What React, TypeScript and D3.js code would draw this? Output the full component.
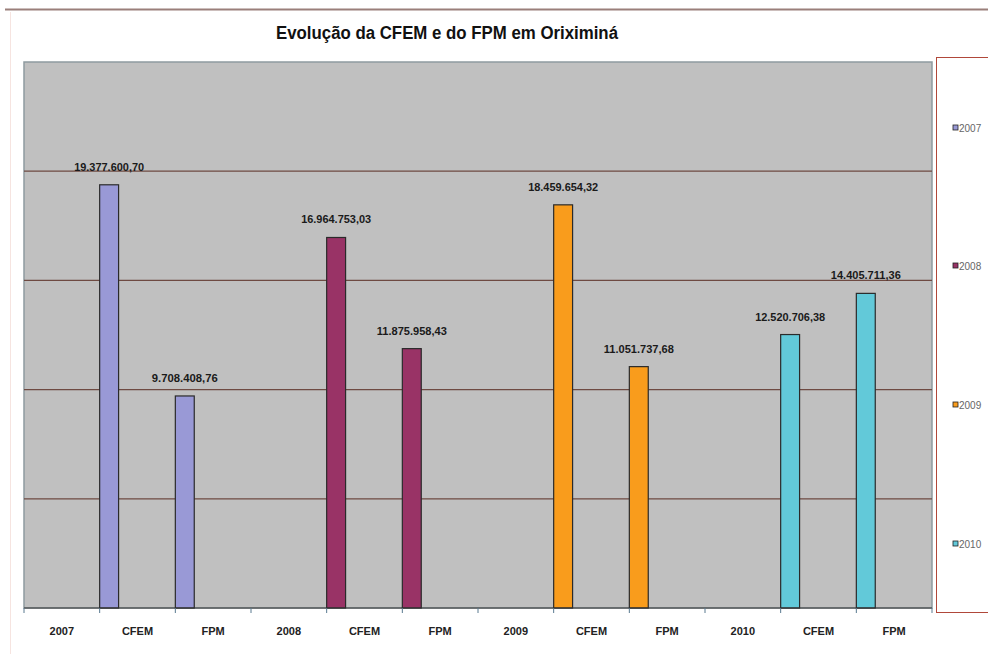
import React from "react";
import * as d3 from "d3";

const categories = ["2007", "CFEM", "FPM", "2008", "CFEM", "FPM", "2009", "CFEM", "FPM", "2010", "CFEM", "FPM"];
const seriesNames = ["2007", "2008", "2009", "2010"];
const seriesColors = ["#9999d6", "#993366", "#f99c1c", "#62c9d9"];
const cfemValues = [19377600.70, 16964753.03, 18459654.32, 12520706.38];
const fpmValues = [9708408.76, 11875958.43, 11051737.68, 14405711.36];
const yTicks = [5e6, 10e6, 15e6, 20e6];
const title = "Evolução da CFEM e do FPM em Oriximiná";

const W = 988, H = 654;
const plot = { x0: 24, x1: 932, y0: 62, y1: 608 };

const locale = d3.formatLocale({ decimal: ",", thousands: ".", grouping: [3], currency: ["R$", ""] });
const fmt = locale.format(",.2f");

export default function App() {
  const x = d3.scaleBand<number>().domain(d3.range(categories.length)).range([plot.x0, plot.x1]).paddingInner(0).paddingOuter(0);
  const y = d3.scaleLinear().domain([0, 25e6]).range([plot.y1, plot.y0]);
  const bw = x.bandwidth() / 4;

  const bars: { idx: number; value: number; color: string }[] = [];
  seriesNames.forEach((_, i) => {
    bars.push({ idx: i * 3 + 1, value: cfemValues[i], color: seriesColors[i] });
    bars.push({ idx: i * 3 + 2, value: fpmValues[i], color: seriesColors[i] });
  });

  const font = "'Liberation Sans', Arial, sans-serif";

  return (
    <svg width={W} height={H} style={{ position: "absolute", left: 0, top: 0, background: "#fff" }} fontFamily={font}>
      <rect x={0} y={0} width={W} height={H} fill="#ffffff" />
      <line x1={5} x2={W} y1={9.5} y2={9.5} stroke="#9a7f7a" strokeWidth={2} />
      <line x1={10.5} x2={10.5} y1={12} y2={H} stroke="#f6e4e0" strokeWidth={1} />
      <text x={447} y={39} textAnchor="middle" fontSize={18} fontWeight="bold" fill="#111" textLength={342} lengthAdjust="spacingAndGlyphs">{title}</text>

      <rect x={plot.x0} y={plot.y0} width={plot.x1 - plot.x0} height={plot.y1 - plot.y0} fill="#c0c0c0" stroke="#8e9ba0" strokeWidth={1.5} />
      {yTicks.map((t) => (
        <line key={t} x1={plot.x0} x2={plot.x1} y1={y(t)} y2={y(t)} stroke="#6e4a42" strokeWidth={1.3} />
      ))}

      {bars.map((b, i) => (
        <g key={i}>
          <rect x={x(b.idx)!} y={y(b.value)} width={bw} height={plot.y1 - y(b.value)} fill={b.color} stroke="#2a2a2a" strokeWidth={1.2} />
          <text x={x(b.idx)! + bw / 2} y={y(b.value) - 14} textAnchor="middle" fontSize={11} fontWeight="bold" fill="#1a1a1a" textLength={fmt(b.value).length > 12 ? 70 : 66} lengthAdjust="spacingAndGlyphs">{fmt(b.value)}</text>
        </g>
      ))}

      <line x1={plot.x0} x2={plot.x1} y1={plot.y1} y2={plot.y1} stroke="#333" strokeWidth={1.2} />
      {d3.range(categories.length + 1).map((i) => {
        const xx = plot.x0 + i * x.step();
        return <line key={i} x1={xx} x2={xx} y1={plot.y1} y2={plot.y1 + 5} stroke="#5a7a90" strokeWidth={1} />;
      })}
      {categories.map((c, i) => (
        <text key={i} x={x(i)! + x.bandwidth() / 2} y={635} textAnchor="middle" fontSize={11} fontWeight="bold" fill="#222">{c}</text>
      ))}

      <rect x={936.5} y={57.5} width={60} height={555} fill="#fff" stroke="#b0483a" strokeWidth={1} />
      {seriesNames.map((s, i) => {
        const ly = [128, 266, 405, 544][i];
        return (
          <g key={s}>
            <rect x={953} y={ly - 3} width={5} height={5} fill={seriesColors[i]} stroke="#222" strokeWidth={0.8} />
            <text x={959} y={ly + 3.5} fontSize={10} fill="#666">{s}</text>
          </g>
        );
      })}
    </svg>
  );
}
